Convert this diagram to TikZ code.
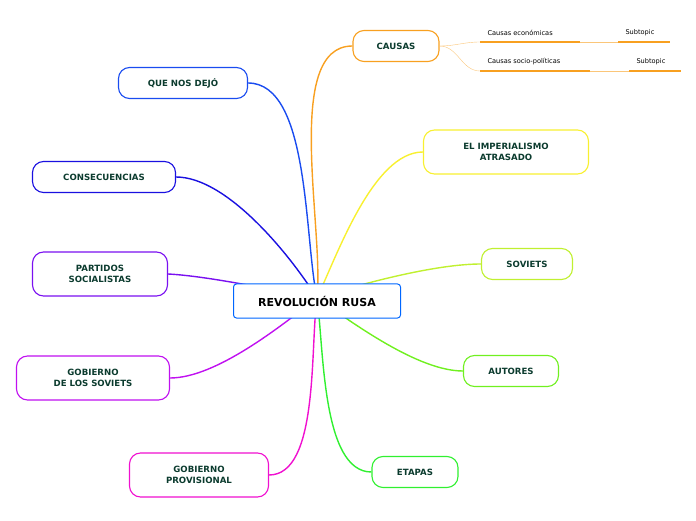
\documentclass[tikz,border=0pt]{standalone}
\usepackage{fontspec}
\setmainfont{DejaVu Sans}
\usetikzlibrary{backgrounds}
\definecolor{txt}{HTML}{0B3B2E}
\definecolor{cdejo}{HTML}{1A4CF0}
\definecolor{cconse}{HTML}{1A10E0}
\definecolor{cpart}{HTML}{7A10F0}
\definecolor{cgobsov}{HTML}{C010F0}
\definecolor{cgobprov}{HTML}{F010D0}
\definecolor{ccausas}{HTML}{F8A020}
\definecolor{cimp}{HTML}{F8F030}
\definecolor{csov}{HTML}{C0F030}
\definecolor{caut}{HTML}{70F020}
\definecolor{ceta}{HTML}{30F030}
\tikzset{
  topic/.style={draw=#1,line width=1.1pt,rounded corners=11pt,fill=white,
    text=txt,font=\bfseries\fontsize{8.6}{11}\selectfont,align=center,
    minimum height=31pt,inner xsep=4pt},
  branch/.style={draw=#1,line width=1.4pt,looseness=0.7},
  sub/.style={text=black,font=\fontsize{6.6}{8}\selectfont,anchor=south west},
  subline/.style={draw=ccausas,line width=1.3pt}
}
\begin{document}
\begin{tikzpicture}[x=1pt,y=1pt]
\useasboundingbox (0,0) rectangle (696,520);
\node[draw=blue!60!cyan,line width=1pt,rounded corners=3pt,fill=white,
  font=\bfseries\fontsize{11}{13}\selectfont,minimum width=167pt,minimum height=34pt]
  (rusa) at (317,219) {REVOLUCIÓN RUSA};
\coordinate (hub) at (317,222);
% left side
\node[topic=cdejo,minimum width=129pt] (dejo) at (183,437) {QUE NOS DEJÓ};
\node[topic=cconse,minimum width=143pt] (conse) at (104,343) {CONSECUENCIAS};
\node[topic=cpart,minimum width=135pt,minimum height=44pt] (partidos) at (100,246) {PARTIDOS\\SOCIALISTAS};
\node[topic=cgobsov,minimum width=153pt,minimum height=44pt] (gobsov) at (93,142) {GOBIERNO\\DE LOS SOVIETS};
\node[topic=cgobprov,minimum width=139pt,minimum height=44pt] (gobprov) at (199,45) {GOBIERNO\\PROVISIONAL};
% right side
\node[topic=ccausas,minimum width=86pt] (causas) at (396,474) {CAUSAS};
\node[topic=cimp,minimum width=165pt,minimum height=44pt] (imperio) at (506,368) {EL IMPERIALISMO\\ATRASADO};
\node[topic=csov,minimum width=91pt] (soviets) at (527,256) {SOVIETS};
\node[topic=caut,minimum width=95pt] (autores) at (511,149) {AUTORES};
\node[topic=ceta,minimum width=86pt] (etapas) at (415,48) {ETAPAS};
% subtopics
\coordinate (e1) at (480,478);
\coordinate (e2) at (580,478);
\coordinate (e3) at (618,478);
\coordinate (e4) at (670,478);
\coordinate (s1) at (480,449);
\coordinate (s2) at (590,449);
\coordinate (s3) at (629,449);
\coordinate (s4) at (681,449);
\node[sub] (econ) at (484,481) {Causas económicas};
\node[sub] (subA) at (622,481) {Subtopic};
\node[sub] (socio) at (484,452) {Causas socio-políticas};
\node[sub] (subB) at (633,452) {Subtopic};
\path[subline] (e1) -- (e2) (e3) -- (e4) (s1) -- (s2) (s3) -- (s4);
\draw[ccausas!60,line width=0.4pt] (causas.east) to[out=0,in=180] (e1);
\draw[ccausas!60,line width=0.4pt] (causas.east) to[out=0,in=180] (s1);
\draw[ccausas!60,line width=0.4pt] (e2) -- (e3);
\draw[ccausas!60,line width=0.4pt] (s2) -- (s3);
\begin{scope}[on background layer]
\path[branch=cdejo] (hub) to[out=102,in=0] (dejo.east);
\path[branch=cconse] (hub) to[out=122,in=0] (conse.east);
\path[branch=cpart] (hub) to[out=170,in=-3] (partidos.east);
\path[branch=cgobsov] (hub) to[out=218,in=0] (gobsov.east);
\path[branch=cgobprov] (hub) to[out=262,in=0] (gobprov.east);
\path[branch=ccausas] (hub) to[out=84,in=180] (causas.west);
\path[branch=cimp] (hub) to[out=65,in=180] (imperio.west);
\path[branch=csov] (hub) to[out=18,in=180] (soviets.west);
\path[branch=caut] (hub) to[out=-35,in=180] (autores.west);
\path[branch=ceta] (hub) to[out=-82,in=180] (etapas.west);
\end{scope}
\end{tikzpicture}
\end{document}
